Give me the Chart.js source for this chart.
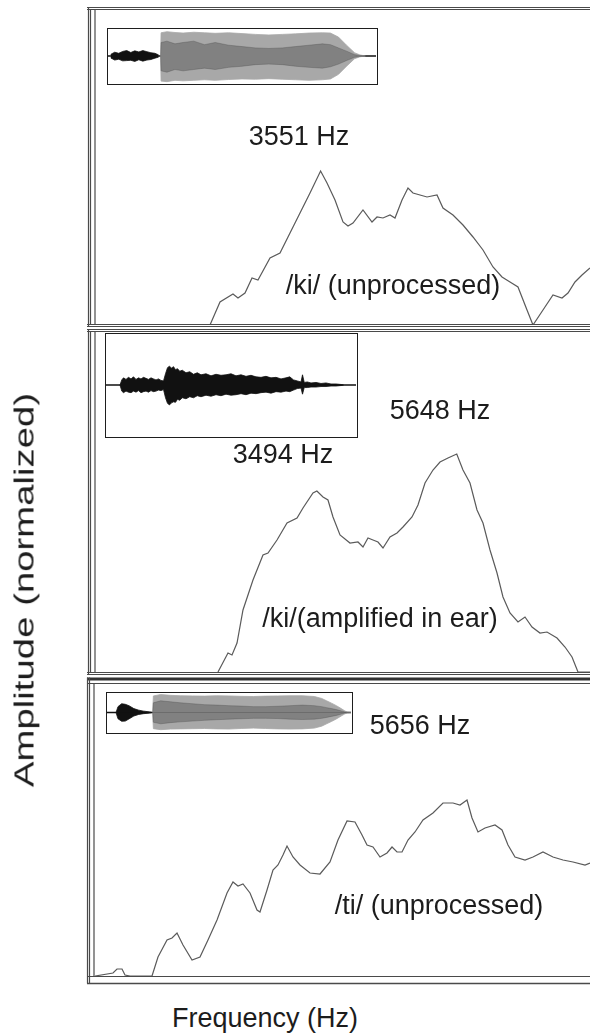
<!DOCTYPE html>
<html><head><meta charset="utf-8">
<script src="https://cdn.jsdelivr.net/npm/chart.js@4.4.1/dist/chart.umd.min.js"></script>
<style>
html,body{margin:0;padding:0;background:#fff;}
body{width:590px;height:1033px;position:relative;overflow:hidden;font-family:"Liberation Sans",Arial,sans-serif;color:#1c1c1c;}
canvas.abs{position:absolute;}
.inset{position:absolute;border:1.5px solid #1e1e1e;box-sizing:border-box;background:#fff;}
.inset canvas{display:block;}
.txt{position:absolute;white-space:nowrap;font-size:27px;line-height:1;}
</style></head><body>
<canvas id="p1" class="abs" width="590" height="328" style="left:0;top:0"></canvas>
<canvas id="p2" class="abs" width="590" height="350" style="left:0;top:328px"></canvas>
<canvas id="p3" class="abs" width="590" height="314" style="left:0;top:676px"></canvas>
<div class="inset" style="left:107px;top:28px;width:271px;height:57px"><canvas id="i1" width="268" height="54"></canvas></div>
<div class="inset" style="left:105px;top:333px;width:253px;height:105px"><canvas id="i2" width="250" height="102"></canvas></div>
<div class="inset" style="left:106px;top:692px;width:247px;height:42px"><canvas id="i3" width="244" height="39"></canvas></div>
<div class="txt" id="ylab" style="left:25px;top:590px;transform:translate(-50%,-50%) rotate(-90deg) scaleX(1.42)">Amplitude (normalized)</div>
<div class="txt" id="xlab" style="left:265px;top:1018px;transform:translate(-50%,-50%)">Frequency (Hz)</div>
<script>
// ---- spectrum data (frequency in Hz, amplitude in arbitrary normalized units) ----
const FREQ1 = [1848,2002,2202,2279,2387,2495,2587,2772,2926,3080,3234,3388,3551,3650,3773,3896,3973,4050,4204,4343,4420,4512,4620,4697,4805,4897,4974,5190,5344,5436,5590,5744,5898,6052,6206,6345,6468,6591,6730,6822,6976,7130,7269,7361,7469,7577,7700];
const AMP1  = [0,23,31,27,32,47,45,67,72,92,112,132,154,142,125,103,99,102,115,103,108,107,110,107,125,137,132,128,130,117,110,100,88,75,58,48,43,38,15,0,15,30,27,32,43,50,57];

const FREQ2 = [1971,2125,2187,2264,2356,2510,2664,2741,2880,3034,3188,3280,3434,3494,3588,3665,3742,3850,4004,4127,4204,4281,4358,4435,4512,4620,4728,4820,4959,5051,5159,5282,5390,5513,5648,5744,5852,5960,6052,6160,6268,6360,6468,6591,6699,6807,6930,7038,7192,7315,7423,7515,7700];
const AMP2  = [0,19,17,29,62,92,117,119,132,149,154,164,179,181,175,172,155,137,129,130,125,134,132,130,124,135,139,145,155,167,189,202,210,214,218,202,189,162,149,122,99,75,59,50,55,45,39,40,34,25,15,0,0];

const FREQ3 = [77,354,416,493,539,616,955,1047,1186,1263,1340,1432,1571,1694,1817,1956,2110,2202,2279,2356,2464,2572,2618,2726,2818,2895,2972,3034,3126,3234,3388,3542,3696,3819,3958,4081,4189,4266,4358,4466,4574,4651,4728,4805,4897,5005,5128,5282,5436,5590,5698,5806,5883,5975,6083,6237,6345,6437,6545,6699,6822,6976,7130,7284,7438,7623,7700];
const AMP3  = [0,3,7,7,1,0,0,19,36,38,43,31,16,19,36,56,83,94,90,92,83,66,64,86,106,111,121,130,119,111,103,102,114,136,155,154,141,131,129,119,123,129,124,124,136,144,156,163,173,173,171,176,158,144,148,151,146,131,119,116,119,124,119,116,114,111,113];

// annotation texts
const TEXT1 = ["3551 Hz", "/ki/ (unprocessed)"];
const TEXT2 = ["5648 Hz", "3494 Hz", "/ki/(amplified in ear)"];
const TEXT3 = ["5656 Hz", "/ti/ (unprocessed)"];

// ---- inset waveform envelopes (time in % of window, amplitude -1..1) ----
const INSET1_BURST_X   = [1,2.5,4,5.5,7,8.5,10,11.5,13,14.5,16,17.5,18.9];
const INSET1_BURST_TOP = [0.06,0.14,0.1,0.17,0.2,0.13,0.19,0.15,0.2,0.16,0.12,0.1,0.04];
const INSET1_BURST_BOT = [-0.07,-0.15,-0.12,-0.18,-0.17,-0.16,-0.2,-0.14,-0.19,-0.15,-0.13,-0.08,-0.04];
const INSET1_VOWEL_X   = [19.6,19.8,22,25,28,32,36,40,45,50,55,60,65,70,75,80,83,86,89,92,94,96];
const INSET1_VOWEL_TOP = [0,0.86,0.9,0.87,0.85,0.88,0.86,0.84,0.86,0.83,0.8,0.78,0.8,0.82,0.85,0.86,0.85,0.7,0.4,0.12,0.04,0];
const INSET1_VOWEL_BOT = [0,-0.93,-0.95,-0.9,-0.92,-0.9,-0.88,-0.9,-0.87,-0.85,-0.86,-0.84,-0.86,-0.88,-0.9,-0.88,-0.85,-0.68,-0.38,-0.1,-0.03,0];
const INSET1_CORE_TOP  = [0,0.5,0.55,0.45,0.5,0.55,0.42,0.5,0.4,0.35,0.3,0.28,0.3,0.35,0.4,0.45,0.42,0.3,0.18,0.05,0.02,0];
const INSET1_CORE_BOT  = [0,-0.55,-0.6,-0.5,-0.55,-0.5,-0.45,-0.5,-0.42,-0.38,-0.32,-0.3,-0.32,-0.38,-0.42,-0.45,-0.4,-0.3,-0.17,-0.05,-0.02,0];

const INSET2_X   = [5.6,6.3,7,8,9,10,11,12,13,14,15,16,17,18,19,20,21,22,23,23.8,24.6,25.4,26.2,27,27.8,28.6,29.5,30.5,32,33.5,35,36.5,38,40,42,44,46,48,50,52,54,56,58,60,62,64,66,68,70,72,73.5,75,76.5,78,78.6,79.3,80.5,82,84,86,88,90,92,94,95];
const INSET2_TOP = [0,0.1,0.14,0.11,0.15,0.12,0.16,0.11,0.14,0.12,0.15,0.13,0.11,0.14,0.12,0.1,0.12,0.09,0.08,0.22,0.34,0.37,0.33,0.36,0.3,0.32,0.27,0.29,0.24,0.26,0.21,0.24,0.2,0.22,0.18,0.21,0.19,0.2,0.22,0.18,0.2,0.17,0.19,0.16,0.15,0.17,0.14,0.15,0.12,0.14,0.16,0.1,0.08,0.06,0.2,0.05,0.06,0.04,0.05,0.03,0.04,0.02,0.02,0.01,0];
const INSET2_BOT = [0,-0.12,-0.15,-0.12,-0.14,-0.15,-0.12,-0.14,-0.11,-0.15,-0.13,-0.12,-0.14,-0.11,-0.13,-0.12,-0.1,-0.11,-0.09,-0.25,-0.36,-0.39,-0.35,-0.33,-0.34,-0.28,-0.3,-0.25,-0.27,-0.23,-0.25,-0.21,-0.23,-0.2,-0.22,-0.19,-0.21,-0.18,-0.2,-0.19,-0.17,-0.19,-0.16,-0.17,-0.15,-0.14,-0.16,-0.13,-0.14,-0.12,-0.13,-0.1,-0.07,-0.06,-0.18,-0.05,-0.05,-0.04,-0.04,-0.03,-0.03,-0.02,-0.02,-0.01,0];

const INSET3_BURST_X   = [3.7,4.5,6,7.5,9,11,13,15,17.5,18.5];
const INSET3_BURST_TOP = [0,0.3,0.45,0.42,0.35,0.2,0.12,0.07,0.03,0];
const INSET3_BURST_BOT = [0,-0.32,-0.45,-0.44,-0.33,-0.18,-0.1,-0.06,-0.03,0];
const INSET3_VOWEL_X   = [18.7,19,22,26,30,35,40,45,50,55,60,65,70,75,80,85,88,90,92,94,96,97.5,98.5,100];
const INSET3_VOWEL_TOP = [0,0.85,0.92,0.88,0.86,0.85,0.84,0.86,0.85,0.83,0.82,0.84,0.85,0.86,0.86,0.82,0.72,0.6,0.48,0.35,0.2,0.08,0.02,0];
const INSET3_VOWEL_BOT = [0,-0.83,-0.88,-0.85,-0.84,-0.83,-0.82,-0.84,-0.85,-0.82,-0.8,-0.82,-0.84,-0.85,-0.84,-0.8,-0.7,-0.58,-0.46,-0.33,-0.18,-0.07,-0.02,0];
const INSET3_CORE_TOP  = [0,0.5,0.6,0.55,0.5,0.45,0.4,0.38,0.35,0.33,0.3,0.3,0.32,0.35,0.38,0.35,0.3,0.25,0.2,0.15,0.08,0.03,0.01,0];
const INSET3_CORE_BOT  = [0,-0.5,-0.58,-0.52,-0.48,-0.44,-0.4,-0.37,-0.34,-0.32,-0.3,-0.3,-0.31,-0.34,-0.36,-0.34,-0.3,-0.25,-0.2,-0.15,-0.08,-0.03,-0.01,0];

const zip = (xs, ys) => xs.map((x, i) => ({x, y: ys[i]}));

// ---- plugins ----
const framePlugin = {
  id: 'frame',
  afterDraw(chart, args, o) {
    const ctx = chart.ctx;
    ctx.save();
    (o.h || []).forEach(l => {
      ctx.strokeStyle = l.c || '#4a4a4a'; ctx.lineWidth = l.w || 1.2;
      ctx.beginPath(); ctx.moveTo(l.x1 != null ? l.x1 : 87, l.y); ctx.lineTo(600, l.y); ctx.stroke();
    });
    (o.v || []).forEach(l => {
      ctx.strokeStyle = l.c || '#4a4a4a'; ctx.lineWidth = l.w || 1.2;
      ctx.beginPath(); ctx.moveTo(l.x, l.y1); ctx.lineTo(l.x, l.y2); ctx.stroke();
    });
    ctx.restore();
  }
};
const labelPlugin = {
  id: 'panelLabels',
  afterDatasetsDraw(chart, args, o) {
    if (!o.items) return;
    const ctx = chart.ctx, xs = chart.scales.x, ys = chart.scales.y;
    ctx.save();
    ctx.font = '27px "Liberation Sans", Arial, sans-serif';
    ctx.fillStyle = '#1c1c1c'; ctx.textAlign = 'center'; ctx.textBaseline = 'middle';
    o.items.forEach(it => ctx.fillText(it.text, xs.getPixelForValue(it.f), ys.getPixelForValue(it.a)));
    ctx.restore();
  }
};

function panel(id, freq, amp, ymax, padding, frame, items) {
  return new Chart(document.getElementById(id), {
    type: 'line',
    data: { datasets: [{ data: zip(freq, amp), borderColor: '#5a5a5a', borderWidth: 1.2, pointRadius: 0, tension: 0, fill: false }] },
    options: {
      responsive: false, animation: false, events: [],
      layout: { padding },
      scales: {
        x: { type: 'linear', min: 77, max: 7700, display: false },
        y: { type: 'linear', min: 0, max: ymax, display: false }
      },
      plugins: { legend: { display: false }, tooltip: { enabled: false }, frame, panelLabels: { items } }
    },
    plugins: [framePlugin, labelPlugin]
  });
}

panel('p1', FREQ1, AMP1, 313, {left: 95, right: 0, top: 12, bottom: 3},
  { h: [{y: 7.5}, {y: 9.5}, {y: 324.5}, {y: 326.5}],
    v: [{x: 88.5, y1: 7.5, y2: 326.5}, {x: 90.5, y1: 9.5, y2: 324.5}, {x: 95, y1: 9.5, y2: 324.5}] },
  [{text: TEXT1[0], f: 3219, a: 187}, {text: TEXT1[1], f: 4666, a: 38}]);

panel('p2', FREQ2, AMP2, 339, {left: 95, right: 0, top: 5, bottom: 6},
  { h: [{y: 1.5}, {y: 3.5}, {y: 344.5}, {y: 346.5}],
    v: [{x: 88.5, y1: 1.5, y2: 346.5}, {x: 90.5, y1: 3.5, y2: 344.5}, {x: 95, y1: 3.5, y2: 344.5}] },
  [{text: TEXT2[0], f: 5390, a: 260}, {text: TEXT2[1], f: 2972, a: 216}, {text: TEXT2[2], f: 4466, a: 52}]);

panel('p3', FREQ3, AMP3, 291, {left: 95, right: 0, top: 9, bottom: 14},
  { h: [{y: 3, w: 3, c: '#333'}, {y: 7.5}, {y: 300.5}, {y: 307.5, w: 1.6}],
    v: [{x: 87.5, y1: 1.5, y2: 307.5}, {x: 89.5, y1: 1.5, y2: 307.5}, {x: 94, y1: 7.5, y2: 300.5}] },
  [{text: TEXT3[0], f: 5082, a: 249}, {text: TEXT3[1], f: 5375, a: 69}]);

// ---- insets ----
// Chart.js paints the first dataset on top, so list top layers first.
function band(xs, ys, color) {
  return { data: zip(xs, ys), borderColor: color, backgroundColor: color, borderWidth: 0.8, pointRadius: 0, tension: 0, fill: 'origin' };
}
function inset(id, datasets) {
  datasets.push({ data: [{x: 0, y: 0}, {x: 100, y: 0}], borderColor: '#111', borderWidth: 1.3, pointRadius: 0, fill: false });
  return new Chart(document.getElementById(id), {
    type: 'line',
    data: { datasets },
    options: {
      responsive: false, animation: false, events: [],
      layout: { padding: 0 },
      scales: { x: { type: 'linear', min: 0, max: 100, display: false }, y: { type: 'linear', min: -1, max: 1, display: false } },
      plugins: { legend: { display: false }, tooltip: { enabled: false } }
    }
  });
}
const GRAY = '#a8a8a8', CORE = 'rgba(70,70,70,0.4)', BLACK = '#111';
inset('i1', [
  band(INSET1_VOWEL_X, INSET1_CORE_TOP, CORE), band(INSET1_VOWEL_X, INSET1_CORE_BOT, CORE),
  band(INSET1_BURST_X, INSET1_BURST_TOP, BLACK), band(INSET1_BURST_X, INSET1_BURST_BOT, BLACK),
  band(INSET1_VOWEL_X, INSET1_VOWEL_TOP, GRAY), band(INSET1_VOWEL_X, INSET1_VOWEL_BOT, GRAY)
]);
inset('i2', [
  band(INSET2_X, INSET2_TOP, BLACK), band(INSET2_X, INSET2_BOT, BLACK)
]);
inset('i3', [
  band(INSET3_VOWEL_X, INSET3_CORE_TOP, CORE), band(INSET3_VOWEL_X, INSET3_CORE_BOT, CORE),
  band(INSET3_BURST_X, INSET3_BURST_TOP, BLACK), band(INSET3_BURST_X, INSET3_BURST_BOT, BLACK),
  band(INSET3_VOWEL_X, INSET3_VOWEL_TOP, GRAY), band(INSET3_VOWEL_X, INSET3_VOWEL_BOT, GRAY)
]);
</script>
</body></html>
